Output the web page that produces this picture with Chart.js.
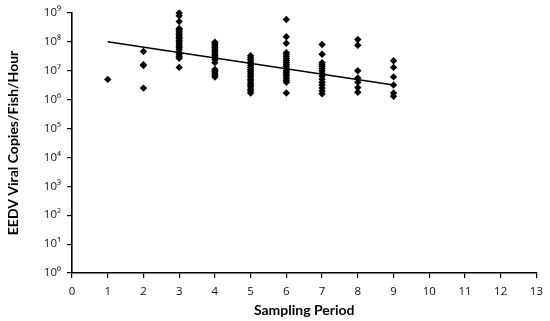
<!DOCTYPE html>
<html>
<head>
<meta charset="utf-8">
<script src="https://cdn.jsdelivr.net/npm/chart.js@4.4.1/dist/chart.umd.min.js"></script>
<style>
  html, body { margin: 0; padding: 0; background: #fff; }
  #wrap { width: 550px; height: 321px; }
</style>
</head>
<body>
<div id="wrap"><canvas id="c" width="550" height="321"></canvas></div>
<script>
// Sampling periods and the values (EEDV viral copies/fish/hour)
const periods = [1, 2, 3, 4, 5, 6, 7, 8, 9];
const period1 = [5.0e6];
const period2 = [4.6e7, 1.6e7, 1.5e7, 2.5e6];
const period3 = [1.0e9, 7.9e8, 5.0e8, 2.9e8, 2.6e8, 2.3e8, 2.0e8, 1.8e8, 1.6e8, 1.4e8, 1.3e8, 1.1e8,
                 9.8e7, 8.4e7, 7.2e7, 6.2e7, 5.3e7, 4.2e7, 3.6e7, 3.1e7, 2.7e7, 1.3e7];
const period4 = [9.7e7, 8.4e7, 7.1e7, 6.2e7, 5.3e7, 4.5e7, 3.8e7, 3.3e7, 2.8e7, 2.4e7, 1.9e7,
                 1.1e7, 9.6e6, 8.2e6, 6.9e6, 6.0e6];
const period5 = [3.3e7, 2.8e7, 2.4e7, 2.0e7, 1.8e7, 1.5e7, 1.3e7, 1.1e7, 9.6e6, 8.2e6, 6.9e6,
                 6.0e6, 5.1e6, 4.4e6, 3.7e6, 3.2e6, 2.8e6, 2.3e6, 2.0e6, 1.7e6];
const period6 = [5.9e8, 1.5e8, 8.9e7, 4.2e7, 3.6e7, 3.1e7, 2.6e7, 2.2e7, 1.9e7, 1.6e7, 1.4e7,
                 1.2e7, 1.0e7, 8.8e6, 7.5e6, 6.5e6, 5.5e6, 4.7e6, 4.0e6, 1.7e6];
const period7 = [8.1e7, 3.7e7, 1.9e7, 1.6e7, 1.4e7, 1.2e7, 1.0e7, 8.1e6, 6.4e6, 5.1e6, 4.0e6,
                 3.2e6, 2.5e6, 2.0e6, 1.6e6];
const period8 = [1.2e8, 7.6e7, 1.0e7, 5.6e6, 4.0e6, 2.6e6, 1.8e6];
const period9 = [2.2e7, 1.3e7, 6.1e6, 3.2e6, 1.7e6, 1.3e6];

// Exponential trend line endpoints (straight on the log axis)
const trendX = [1, 9];
const trendY = [1.0e8, 3.2e6];

// Tick labels
const yTickLabels = ['10⁰', '10¹', '10²', '10³', '10⁴', '10⁵', '10⁶', '10⁷', '10⁸', '10⁹'];
const xTickLabels = ['0','1','2','3','4','5','6','7','8','9','10','11','12','13'];

const xTitle = 'Sampling Period';
const yTitle = 'EEDV Viral Copies/Fish/Hour';

const allSeries = [period1, period2, period3, period4, period5, period6, period7, period8, period9];
const scatterPoints = [];
allSeries.forEach((vals, i) => vals.forEach(v => scatterPoints.push({ x: periods[i], y: v })));
const trendPoints = trendX.map((x, i) => ({ x: x, y: trendY[i] }));

const TICKFONT = "'Open Sans', 'DejaVu Sans', sans-serif";
const TITLEFONT = "Lato, 'Open Sans', sans-serif";

new Chart(document.getElementById('c'), {
  type: 'scatter',
  data: {
    datasets: [
      {
        type: 'line',
        data: trendPoints,
        borderColor: '#000',
        borderWidth: 1.6,
        pointRadius: 0,
        fill: false,
        order: 1
      },
      {
        data: scatterPoints,
        pointStyle: 'rectRot',
        pointRadius: 3.7,
        backgroundColor: '#000',
        borderColor: '#000',
        borderWidth: 0,
        clip: false,
        order: 0
      }
    ]
  },
  options: {
    responsive: false,
    animation: false,
    devicePixelRatio: 1,
    layout: { padding: { left: 0, top: 6, right: 9, bottom: 0 } },
    plugins: { legend: { display: false }, tooltip: { enabled: false } },
    scales: {
      x: {
        type: 'linear',
        min: 0,
        max: 13,
        afterBuildTicks: (s) => { s.ticks = xTickLabels.map((_, i) => ({ value: i })); },
        afterFit: (s) => { s.height = 48; },
        grid: { display: true, drawOnChartArea: false, drawTicks: true, tickLength: 5, color: '#000', lineWidth: 1.2 },
        border: { display: true, color: '#000', width: 1.6 },
        ticks: {
          padding: 7,
          color: '#111',
          font: { family: TICKFONT, size: 11.5 },
          maxRotation: 0,
          callback: (v) => xTickLabels[Math.round(v)]
        },
        title: {
          display: true,
          text: xTitle,
          color: '#000',
          font: { family: TITLEFONT, size: 14, weight: 'bold' },
          padding: { top: 0, bottom: 2 }
        }
      },
      y: {
        type: 'logarithmic',
        min: 1,
        max: 1e9,
        afterBuildTicks: (s) => { s.ticks = yTickLabels.map((_, i) => ({ value: Math.pow(10, i) })); },
        afterFit: (s) => { s.width = 72; },
        grid: { display: true, drawOnChartArea: false, drawTicks: true, tickLength: 5, color: '#000', lineWidth: 1.2 },
        border: { display: true, color: '#000', width: 1.6 },
        ticks: {
          padding: 6,
          color: '#111',
          font: { family: TICKFONT, size: 11.5 },
          callback: (v) => yTickLabels[Math.round(Math.log10(v))]
        },
        title: {
          display: true,
          text: yTitle,
          color: '#000',
          font: { family: TITLEFONT, size: 14, weight: 'bold' },
          padding: { top: 5, bottom: 0 }
        }
      }
    }
  }
});
</script>
</body>
</html>
